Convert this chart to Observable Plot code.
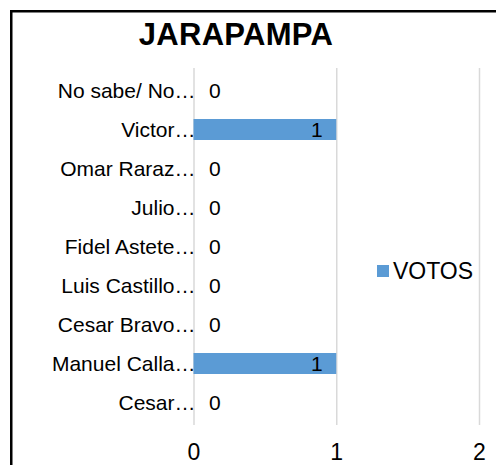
<!DOCTYPE html>
<html>
<head>
<meta charset="utf-8">
<script src="https://cdn.jsdelivr.net/npm/d3@7"></script>
<script src="https://cdn.jsdelivr.net/npm/@observablehq/plot@0.6"></script>
<style>
  html, body { margin: 0; padding: 0; background: #fff; }
  #wrap { position: relative; width: 496px; height: 465px; overflow: hidden; font-family: "Liberation Sans", Arial, sans-serif; }
  #wrap svg { position: absolute; left: 0; top: 0; }
</style>
</head>
<body>
<div id="wrap"></div>
<script>
const chartTitle = "JARAPAMPA";
const seriesName = "VOTOS";
const categories = ["No sabe/ No…", "Victor…", "Omar Raraz…", "Julio…", "Fidel Astete…", "Luis Castillo…", "Cesar Bravo…", "Manuel Calla…", "Cesar…"];
const votos = [0, 1, 0, 0, 0, 0, 0, 1, 0];
const xTicks = [0, 1, 2];

const data = categories.map((c, i) => ({candidato: c, votos: votos[i]}));
const barColor = "#5B9BD5";

const plot = Plot.plot({
  width: 496,
  height: 465,
  marginLeft: 193.5,
  marginRight: 17,
  marginTop: 68,
  marginBottom: 40,
  style: {fontFamily: "'Liberation Sans', Arial, sans-serif", color: "#000", background: "transparent", overflow: "visible"},
  x: {domain: [0, 2], ticks: xTicks, label: null},
  y: {domain: categories, label: null, paddingInner: 0.45, paddingOuter: 0.225},
  marks: [
    Plot.ruleX(xTicks, {stroke: "#d9d9d9", strokeWidth: 1.5}),
    Plot.barX(data, {x: "votos", y: "candidato", fill: barColor}),
    Plot.text(data.filter(d => d.votos === 0), {x: "votos", y: "candidato", text: d => String(d.votos), textAnchor: "start", dx: 15, fontSize: 21, fill: "#000"}),
    Plot.text(data.filter(d => d.votos > 0), {x: "votos", y: "candidato", text: d => String(d.votos), textAnchor: "end", dx: -14, fontSize: 21, fill: "#000"}),
    Plot.axisX({ticks: xTicks, tickSize: 0, tickPadding: 18, fontSize: 23, tickFormat: d => String(d), label: null}),
    Plot.axisY({tickSize: 0, tickPadding: -1.5, fontSize: 21, label: null})
  ]
});

const wrap = document.getElementById("wrap");
wrap.appendChild(plot);

// overlay: border, title, legend
const ov = d3.select(wrap).append("svg")
  .attr("width", 496).attr("height", 465)
  .style("font-family", "'Liberation Sans', Arial, sans-serif");
ov.append("rect").attr("x", 11.25).attr("y", 11.25).attr("width", 600).attr("height", 600)
  .attr("fill", "none").attr("stroke", "#000").attr("stroke-width", 2.5);
ov.append("text").attr("x", 236).attr("y", 45).attr("text-anchor", "middle")
  .attr("font-size", 31).attr("font-weight", "bold").attr("letter-spacing", 0.3).attr("fill", "#000")
  .text(chartTitle);
const lg = ov.append("g");
lg.append("rect").attr("x", 377).attr("y", 265).attr("width", 12).attr("height", 12).attr("fill", barColor);
lg.append("text").attr("x", 393).attr("y", 279).attr("font-size", 23).attr("fill", "#000").text(seriesName);
</script>
</body>
</html>
